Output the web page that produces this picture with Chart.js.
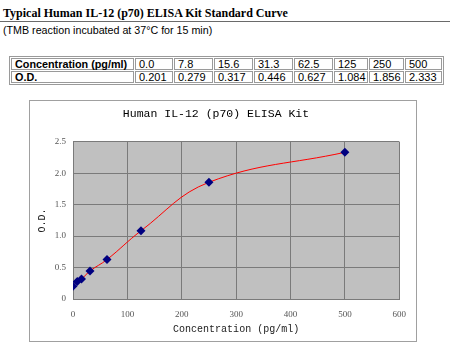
<!DOCTYPE html>
<html>
<head>
<meta charset="utf-8">
<script src="https://cdn.jsdelivr.net/npm/chart.js@4"></script>
<style>
  html, body { margin: 0; padding: 0; background: #fff; }
  body { width: 450px; height: 360px; position: relative; overflow: hidden; }
  #title { position: absolute; left: 3px; top: 6px; font: bold 12px "Liberation Serif", serif; color: #000; white-space: nowrap; }
  #rule { position: absolute; left: 0; top: 21px; width: 450px; height: 1px; background: #6a6a6a; }
  #sub { position: absolute; left: 3px; top: 24px; font: 10.7px "Liberation Sans", Arial, sans-serif; color: #000; white-space: nowrap; }
  #tbl { position: absolute; left: 9px; top: 56px; border: 1px solid #9a9a9a; border-spacing: 1px; font: 11px "Liberation Sans", Arial, sans-serif; table-layout: fixed; width: 433px; }
  #tbl td { border: 1px solid #9a9a9a; padding: 0 2px 0 3px; height: 10px; line-height: 10px; white-space: nowrap; overflow: visible; }
  #tbl td.h { font-weight: bold; font-size: 10.8px; padding: 0 1px 0 3px; }
  #frame { position: absolute; left: 29px; top: 100px; width: 386px; height: 240px; border: 1px solid #a0a0a0; }
  canvas { display: block; }
</style>
</head>
<body>
<div id="title">Typical Human IL-12 (p70) ELISA Kit Standard Curve</div>
<div id="rule"></div>
<div id="sub">(TMB reaction incubated at 37°C for 15 min)</div>
<table id="tbl"></table>
<div id="frame"><canvas id="c" width="386" height="240"></canvas></div>
<script>
const concentrationLabels = ["0.0", "7.8", "15.6", "31.3", "62.5", "125", "250", "500"];
const odLabels = ["0.201", "0.279", "0.317", "0.446", "0.627", "1.084", "1.856", "2.333"];
const concentrations = [0, 7.8, 15.6, 31.3, 62.5, 125, 250, 500];
const odValues = [0.201, 0.279, 0.317, 0.446, 0.627, 1.084, 1.856, 2.333];
const xTicks = [0, 100, 200, 300, 400, 500, 600];
const yTicks = [0, 0.5, 1, 1.5, 2, 2.5];

// build table
const tbl = document.getElementById('tbl');
const colW = [123, 38, 39, 39, 39, 39, 34, 35, 37];
const cg = document.createElement('colgroup');
colW.forEach(w => { const c = document.createElement('col'); c.style.width = w + 'px'; cg.appendChild(c); });
tbl.appendChild(cg);
[["Concentration (pg/ml)", concentrationLabels], ["O.D.", odLabels]].forEach(([h, vals]) => {
  const tr = document.createElement('tr');
  const th = document.createElement('td'); th.className = 'h'; th.textContent = h; tr.appendChild(th);
  vals.forEach(v => { const td = document.createElement('td'); td.textContent = v; tr.appendChild(td); });
  tbl.appendChild(tr);
});

const plotBg = {
  id: 'plotBg',
  beforeDraw(chart) {
    const {ctx, chartArea: a} = chart;
    ctx.save();
    ctx.fillStyle = '#c0c0c0';
    ctx.fillRect(a.left, a.top, a.right - a.left, a.bottom - a.top);
    ctx.restore();
  }
};

const tickFont = { family: '"Liberation Serif", serif', size: 9 };
new Chart(document.getElementById('c'), {
  type: 'scatter',
  data: {
    datasets: [{
      data: concentrations.map((x, i) => ({ x, y: odValues[i] })),
      showLine: true,
      borderColor: '#ff0000',
      borderWidth: 1,
      tension: 0.4,
      pointStyle: 'rectRot',
      pointRadius: 4.5,
      pointBackgroundColor: '#000080',
      pointBorderColor: '#000080',
      pointBorderWidth: 0
    }]
  },
  options: {
    responsive: false,
    animation: false,
    layout: { padding: { left: 0, right: 14, top: 0, bottom: 0 } },
    plugins: {
      legend: { display: false },
      tooltip: { enabled: false },
      title: {
        display: true,
        text: 'Human IL-12 (p70) ELISA Kit',
        color: '#000',
        font: { family: '"Liberation Mono", monospace', size: 11.5, weight: 'normal', lineHeight: 1.2 },
        padding: { top: 6, bottom: 21 }
      }
    },
    scales: {
      x: {
        type: 'linear', min: 0, max: 600,
        afterBuildTicks: s => { s.ticks = xTicks.map(v => ({ value: v })); },
        afterFit: s => { s.height = 42; },
        grid: { color: '#7a7a7a', drawTicks: false, lineWidth: 1 },
        border: { color: '#7a7a7a' },
        ticks: { font: tickFont, color: '#555', padding: 10, maxRotation: 0 },
        title: { display: true, text: 'Concentration (pg/ml)', color: '#222',
          font: { family: '"Liberation Mono", monospace', size: 10, lineHeight: 1.2 }, padding: { top: 0, bottom: 6 } }
      },
      y: {
        type: 'linear', min: 0, max: 2.5,
        afterBuildTicks: s => { s.ticks = yTicks.map(v => ({ value: v })); },
        afterFit: s => { s.width = 43; },
        grid: { color: '#7a7a7a', drawTicks: false, lineWidth: 1 },
        border: { color: '#7a7a7a' },
        ticks: { font: tickFont, color: '#555', padding: 7 },
        title: { display: true, text: 'O.D.', color: '#222',
          font: { family: '"Liberation Mono", monospace', size: 10, lineHeight: 1.2 }, padding: { top: 6, bottom: 0 } }
      }
    }
  },
  plugins: [plotBg]
});
</script>
</body>
</html>
